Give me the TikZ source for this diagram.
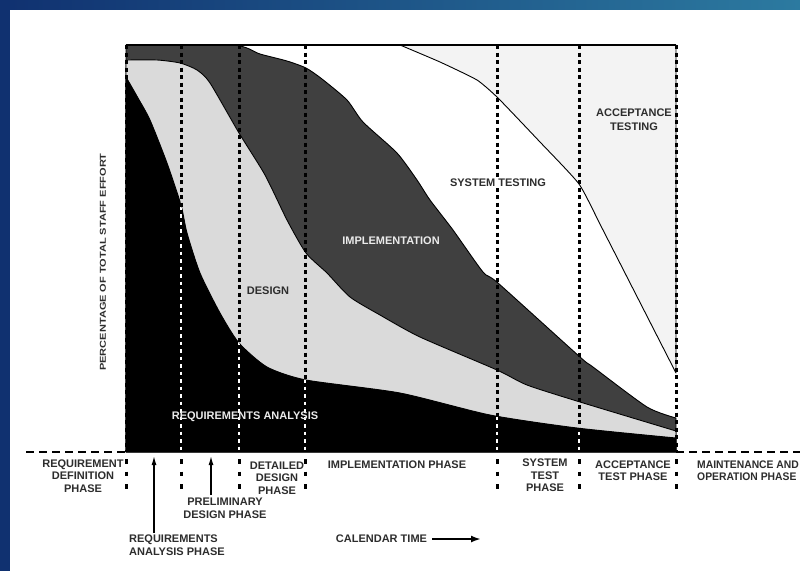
\documentclass[tikz,border=0pt]{standalone}
\usepackage{fontspec}
\setmainfont{Liberation Sans}
\usetikzlibrary{arrows.meta}

\definecolor{framenavy}{RGB}{16,49,112}
\definecolor{frameteal}{RGB}{44,122,160}
\definecolor{implgray}{RGB}{64,64,64}
\definecolor{designgray}{RGB}{218,218,218}
\definecolor{accgray}{RGB}{243,243,243}
\definecolor{labelgray}{RGB}{45,45,45}
\definecolor{lightlabel}{RGB}{235,235,235}

% boundaries between the stacked effort bands (x to the right, y downwards)
\def\implEdge{plot[smooth,tension=0.4] coordinates {(126,45) (233,45) (260,54) (287,61) (306,68) (322,79) (347,100) (363,122) (397,153) (417,180) (430,200) (453,230) (483,272) (498,283) (580,357) (593,367) (647,407) (676,418)}}
\def\designEdge{plot[smooth,tension=0.4] coordinates {(126,60) (157,60) (180,63) (197,70) (210,83) (239,133) (265,175) (287,220) (306,253) (327,273) (350,297) (380,315) (420,337) (497,370) (527,385) (580,402) (676,431)}}
\def\reqEdge{plot[smooth,tension=0.4] coordinates {(126,77) (138,98) (150,120) (167,163) (181,205) (187,233) (200,273) (220,313) (239,343) (267,367) (306,380) (400,393) (490,415) (577,428) (676,438)}}
\def\accEdge{plot[smooth,tension=0.3] coordinates {(400,45) (440,62) (477,80) (498,98) (540,142) (579,184) (603,230) (676,373)}}

\begin{document}
\begin{tikzpicture}[x=1pt,y=-1pt,
  lbl/.style={font=\bfseries\fontsize{11}{12.5}\selectfont, text=labelgray, inner sep=0pt, align=center},
  band/.style={draw=black, line width=0.9pt, line join=round},
  phaseline/.style={line width=3pt, dash pattern=on 4pt off 3.5pt},
  phasegap/.style={white, line width=1.5pt, dash pattern=on 3.5pt off 4pt, dash phase=3.5pt},
  phasetail/.style={line width=3pt, dash pattern=on 4.5pt off 8pt, dash phase=-3pt},
  baseext/.style={line width=2pt, dash pattern=on 8pt off 5pt},
  arr/.style={line width=1.3pt, -{Latex[length=9pt,width=5pt]}}
]
\useasboundingbox (0,0) rectangle (800,571);
\clip (0,0) rectangle (800,571);

% page frame
\fill[white] (0,0) rectangle (800,571);
\shade[left color=framenavy, right color=frameteal] (0,0) rectangle (800,9);
\fill[framenavy] (0,0) rectangle (10,571);

% effort bands
\path[fill=accgray, band] \accEdge -- (676,45) -- cycle;
\path[fill=implgray, band] \implEdge -- (676,452) -- (126,452) -- cycle;
\path[fill=designgray, band] \designEdge -- (676,452) -- (126,452) -- cycle;
\path[fill=black, band] \reqEdge -- (676,452) -- (126,452) -- cycle;

% top edge of the chart
\draw[line width=1.5pt] (126,45) -- (676,45);

% phase boundaries
\foreach \px in {126,181,239,305,497,579,676} {
  \draw[phaseline] (\px,45) -- (\px,452);
  \draw[phasetail] (\px,456) -- (\px,492);
}
\begin{scope}
  \clip \reqEdge -- (676,452) -- (126,452) -- cycle;
  \foreach \px in {181,239,305,497,579} {
    \draw[phasegap] (\px,45) -- (\px,452);
  }
\end{scope}

% calendar axis extensions
\draw[baseext] (26,452) -- (126,452);
\draw[baseext] (676,452) -- (800,452);

% band labels
\node[lbl] (accLbl) at (634,119.5) {ACCEPTANCE\\[1.5pt]TESTING};
\node[lbl, fill=white, inner sep=1pt] (stLbl) at (498,183) {SYSTEM TESTING};
\node[lbl, text=lightlabel] (implLbl) at (391,241) {IMPLEMENTATION};
\node[lbl] (desLbl) at (268,291) {DESIGN};
\node[lbl, text=lightlabel] (reqLbl) at (245,417) {REQUIREMENTS ANALYSIS};
\node[lbl, rotate=90] (yLbl) at (103,262) {\scalebox{1}[0.78]{PERCENTAGE OF TOTAL STAFF EFFORT}};

% phase labels
\node[lbl] (rdPhase) at (83,476) {REQUIREMENT\\DEFINITION\\PHASE};
\node[lbl] (ddPhase) at (277,478) {DETAILED\\DESIGN\\PHASE};
\node[lbl] (imPhase) at (397,465) {IMPLEMENTATION PHASE};
\node[lbl] (stPhase) at (545,475.5) {SYSTEM\\TEST\\PHASE};
\node[lbl] (atPhase) at (633,470.5) {ACCEPTANCE\\TEST PHASE};
\node[lbl, align=left, anchor=west] (moPhase) at (697,470.5) {\scalebox{0.94}[1]{MAINTENANCE AND}\\\scalebox{0.94}[1]{OPERATION PHASE}};
\node[lbl, align=left, anchor=west] (raPhase) at (129,545) {REQUIREMENTS\\ANALYSIS PHASE};
\node[lbl] (pdPhase) at (225,508.5) {PRELIMINARY\\DESIGN PHASE};

% pointers to the short phases
\coordinate (raTip) at (154,456);
\coordinate (pdTip) at (211,456);
\draw[arr] (raPhase.north west -| raTip) ++(0,-2) -- (raTip);
\draw[arr] (pdPhase.north -| pdTip) ++(0,-3) -- (pdTip);

% time axis caption
\node[lbl] (calLbl) at (381.5,539) {CALENDAR TIME};
\coordinate (calEnd) at (481,539);
\draw[line width=2pt, -{Latex[length=10pt,width=7pt]}] (calLbl.east) ++(5,0) -- (calEnd);
\end{tikzpicture}
\end{document}
